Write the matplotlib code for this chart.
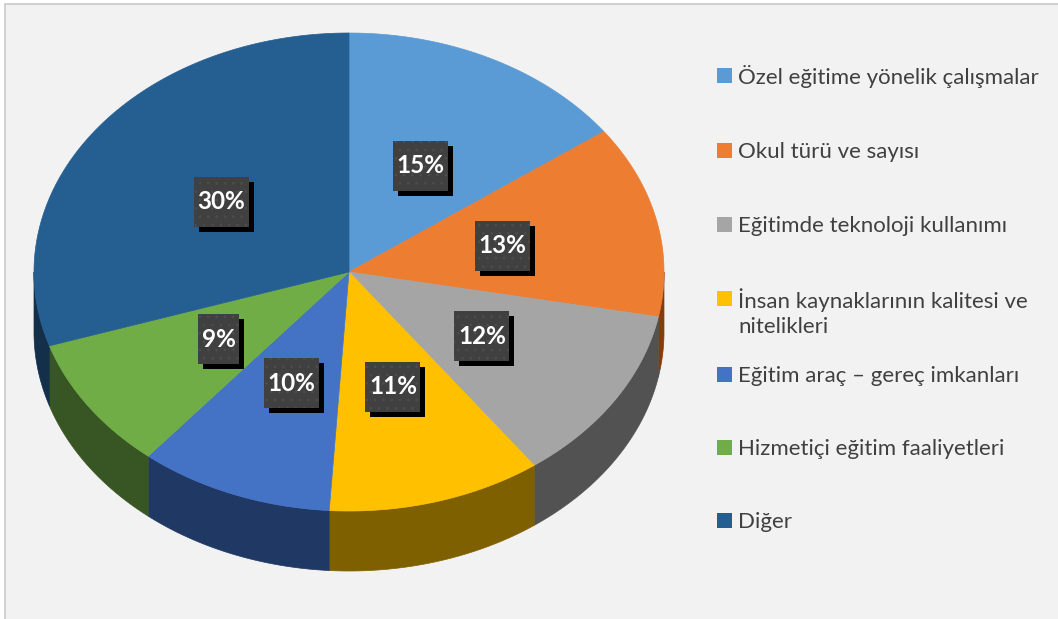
import matplotlib.pyplot as plt
from matplotlib.patches import Polygon, Rectangle
import numpy as np

plt.rcParams['font.family'] = ['Lato', 'DejaVu Sans']
plt.rcParams['hatch.linewidth'] = 0.6

labels = ['Özel eğitime yönelik çalışmalar',
          'Okul türü ve sayısı',
          'Eğitimde teknoloji kullanımı',
          'İnsan kaynaklarının kalitesi ve\nnitelikleri',
          'Eğitim araç – gereç imkanları',
          'Hizmetiçi eğitim faaliyetleri',
          'Diğer']
values = [15, 13, 12, 11, 10, 9, 30]
top_colors = ['#5B9BD5', '#ED7D31', '#A5A5A5', '#FFC000', '#4472C4', '#70AD47', '#255E91']
side_colors = ['#2E4F6E', '#843C0C', '#525252', '#7F6000', '#203864', '#375623', '#132F4A']

# pie geometry in pixels
cx, cy = 349, 272
rx, ry = 315, 239
depth = 60

fig = plt.figure(figsize=(10.58, 6.19), dpi=100, facecolor='white')
ax = fig.add_axes([0, 0, 1, 1])
ax.set_xlim(0, 1058)
ax.set_ylim(619, 0)
ax.axis('off')

ax.add_patch(Rectangle((5, 4), 1100, 700, facecolor='#F2F2F2', edgecolor='#C9C9C9', lw=1.2))


def arc(t0, t1, dy=0, n=200):
    t = np.linspace(np.radians(t0), np.radians(t1), n)
    return np.column_stack([cx + rx * np.cos(t), cy - ry * np.sin(t) + dy])


fracs = np.array(values) / sum(values)
cum = np.concatenate([[0], np.cumsum(fracs)])
starts = 90 - 360 * cum[:-1]
ends = 90 - 360 * cum[1:]

# side walls (front half only: angles between -180 and 0)
for s, e, col in zip(starts, ends, side_colors):
    for off in (0, -360):
        a = min(s, e) + off
        b = max(s, e) + off
        lo = max(a, -180)
        hi = min(b, 0)
        if hi > lo:
            top = arc(lo, hi)
            bot = arc(hi, lo, dy=depth)
            ax.add_patch(Polygon(np.vstack([top, bot]), closed=True, facecolor=col,
                                 edgecolor=col, lw=0.5))

# top faces
for s, e, col in zip(starts, ends, top_colors):
    pts = np.vstack([[cx, cy], arc(s, e)])
    ax.add_patch(Polygon(pts, closed=True, facecolor=col, edgecolor=col, lw=0.5))

# data labels: dark patterned box with black drop shadow
for s, e, v in zip(starts, ends, values):
    m = np.radians((s + e) / 2)
    lx = cx + 0.5 * rx * np.cos(m)
    ly = cy - 0.5 * ry * np.sin(m)
    txt = f'{v}%'
    w = 14 * len(txt) + 13
    h = 50
    ax.add_patch(Rectangle((lx - w / 2 + 5, ly - h / 2 + 5), w, h, facecolor='black',
                           edgecolor='none'))
    ax.add_patch(Rectangle((lx - w / 2, ly - h / 2), w, h, facecolor='#404040',
                           edgecolor='#4E4E4E', lw=0, hatch='..'))
    ax.text(lx, ly, txt, ha='center', va='center', fontsize=17.5,
            fontweight='bold', color='white')

# legend
leg_y = [75, 150, 224, 298, 374, 447, 520]
for lab, col, y in zip(labels, top_colors, leg_y):
    ax.add_patch(Rectangle((717, y - 7.5), 15, 15, facecolor=col, edgecolor='none'))
    for k, line in enumerate(lab.split('\n')):
        ax.text(738, y + 27 * k, line, ha='left', va='center_baseline',
                fontsize=16, color='#404040')

fig.savefig('out.png', dpi=100, facecolor=fig.get_facecolor())
